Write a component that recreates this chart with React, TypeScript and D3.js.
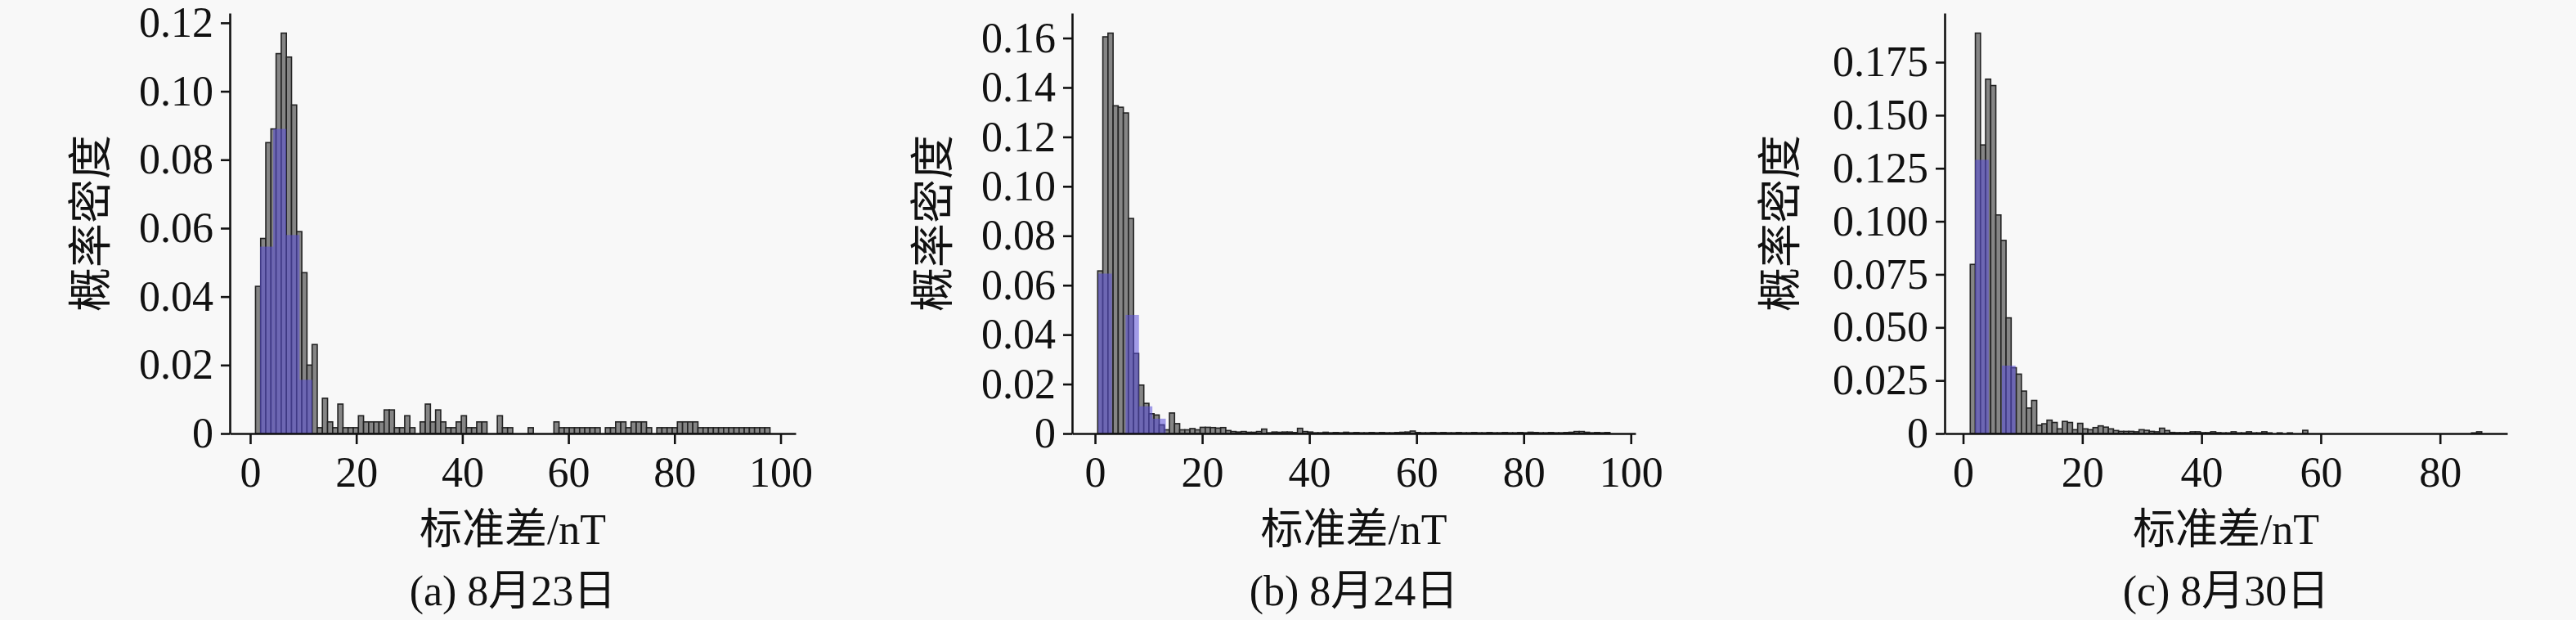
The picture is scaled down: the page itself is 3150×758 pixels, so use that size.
import { useEffect, useRef } from "react";
import * as d3 from "d3";

// gray histograms: 100 equal bins over each data range
const RANGE_A = [1.0, 98.0];
const GRAY_A = [
  0.043, 0.057, 0.085, 0.089, 0.111, 0.117, 0.110, 0.096, 0.059, 0.047,
  0.020, 0.026, 0.0017, 0.0103, 0.0034, 0.0017, 0.0086, 0.0017, 0.0017, 0.0017,
  0.0052, 0.0034, 0.0034, 0.0034, 0.0034, 0.0069, 0.0069, 0.0017, 0.0017, 0.0052,
  0.0017, 0, 0.0034, 0.0086, 0.0034, 0.0069, 0.0034, 0.0017, 0.0017, 0.0034,
  0.0052, 0.0017, 0.0017, 0.0034, 0.0034, 0, 0, 0.0052, 0.0017, 0.0017,
  0, 0, 0, 0.0017, 0, 0, 0, 0, 0.0034, 0.0017,
  0.0017, 0.0017, 0.0017, 0.0017, 0.0017, 0.0017, 0.0017, 0, 0.0017, 0.0017,
  0.0034, 0.0034, 0.0017, 0.0034, 0.0034, 0.0034, 0.0017, 0, 0.0017, 0.0017,
  0.0017, 0.0017, 0.0034, 0.0034, 0.0034, 0.0034, 0.0017, 0.0017, 0.0017, 0.0017,
  0.0017, 0.0017, 0.0017, 0.0017, 0.0017, 0.0017, 0.0017, 0.0017, 0.0017, 0.0017,
];

const RANGE_B = [0.5, 96.1];
const GRAY_B = [
  0.0658, 0.1605, 0.162, 0.1326, 0.132, 0.1297, 0.087, 0.0324, 0.0196, 0.0122,
  0.008, 0.0075, 0.0035, 0.0015, 0.0083, 0.004, 0.0015, 0.0015, 0.002, 0.0015,
  0.0025, 0.0025, 0.0024, 0.0022, 0.0024, 0.0012, 0.0008, 0.0006, 0.0008, 0.0005,
  0.0005, 0.0008, 0.0018, 0.0003, 0.0006, 0.0005, 0.0006, 0.0006, 0.0004, 0.0021,
  0.0008, 0.0006, 0.0003, 0.0003, 0.0005, 0.0003, 0.0004, 0.0003, 0.0005, 0.0003,
  0.0004, 0.0003, 0.0003, 0.0004, 0.0003, 0.0004, 0.0003, 0.0003, 0.0004, 0.0005,
  0.0006, 0.001, 0.0004, 0.0003, 0.0003, 0.0004, 0.0003, 0.0004, 0.0003, 0.0003,
  0.0004, 0.0003, 0.0003, 0.0004, 0.0003, 0.0003, 0.0004, 0.0003, 0.0003, 0.0004,
  0.0003, 0.0003, 0.0004, 0.0003, 0.0005, 0.0004, 0.0003, 0.0003, 0.0004, 0.0003,
  0.0003, 0.0004, 0.0005, 0.0008, 0.0008, 0.0005, 0.0003, 0.0004, 0.0003, 0.0004,
];

const RANGE_C = [1.2, 87.0];
const GRAY_C = [
  0.0797, 0.1887, 0.136, 0.167, 0.164, 0.103, 0.091, 0.0545, 0.031, 0.028,
  0.020, 0.012, 0.0156, 0.0039, 0.0046, 0.0063, 0.0052, 0.0022, 0.0057, 0.0052,
  0.0018, 0.0048, 0.0022, 0.0018, 0.0028, 0.0036, 0.003, 0.0022, 0.0014, 0.001,
  0.001, 0.001, 0.0008, 0.0018, 0.0015, 0.001, 0.0008, 0.0025, 0.0014, 0.0005,
  0.0004, 0.0004, 0.0004, 0.0008, 0.0008, 0.0004, 0.0004, 0.0008, 0.0004, 0.0003,
  0.0003, 0.0008, 0.0003, 0.0003, 0.0008, 0.0003, 0.0003, 0.0008, 0.0003, 0,
  0.0003, 0, 0.0003, 0, 0, 0.0015, 0, 0, 0, 0,
  0, 0, 0, 0, 0, 0, 0, 0, 0, 0,
  0, 0, 0, 0, 0, 0, 0, 0, 0, 0,
  0, 0, 0, 0, 0, 0, 0, 0, 0.0003, 0.0008,
];

// blue histograms (wider bins)
const BLUE_EDGES_A = [1.85, 4.35, 6.8, 9.3, 11.7];
const BLUE_A = [0.0546, 0.089, 0.058, 0.0157];
const BLUE_EDGES_B = [0.6, 3.15, 5.7, 8.2, 10.7, 13.2];
const BLUE_B = [0.0647, 0, 0.048, 0.011, 0.006];
const BLUE_EDGES_C = [2.0, 4.3, 6.5, 8.8];
const BLUE_C = [0.129, 0, 0.032];

const Y_TICKS_A = [0, 0.02, 0.04, 0.06, 0.08, 0.1, 0.12];
const Y_TICKS_B = [0, 0.02, 0.04, 0.06, 0.08, 0.1, 0.12, 0.14, 0.16];
const Y_TICKS_C = [0, 0.025, 0.05, 0.075, 0.1, 0.125, 0.15, 0.175];
const X_TICKS_AB = [0, 20, 40, 60, 80, 100];
const X_TICKS_C = [0, 20, 40, 60, 80];

const TITLES = ["(a) 8月23日", "(b) 8月24日", "(c) 8月30日"];
const X_LABEL = "标准差/nT";
const Y_LABEL = "概率密度";

const FONT = "'Liberation Serif', 'Times New Roman', 'Noto Sans CJK SC', serif";

type PanelSpec = {
  range: number[];
  gray: number[];
  blueEdges: number[];
  blue: number[];
  yTicks: number[];
  xTicks: number[];
  yFmt: (d: number) => string;
  title: string;
  left: number;
  right: number;
};

const PANELS: PanelSpec[] = [
  {
    range: RANGE_A, gray: GRAY_A, blueEdges: BLUE_EDGES_A, blue: BLUE_A,
    yTicks: Y_TICKS_A, xTicks: X_TICKS_AB,
    yFmt: (d) => (d === 0 ? "0" : d3.format(".2f")(d)),
    title: TITLES[0], left: 281, right: 973,
  },
  {
    range: RANGE_B, gray: GRAY_B, blueEdges: BLUE_EDGES_B, blue: BLUE_B,
    yTicks: Y_TICKS_B, xTicks: X_TICKS_AB,
    yFmt: (d) => (d === 0 ? "0" : d3.format(".2f")(d)),
    title: TITLES[1], left: 1311, right: 2000,
  },
  {
    range: RANGE_C, gray: GRAY_C, blueEdges: BLUE_EDGES_C, blue: BLUE_C,
    yTicks: Y_TICKS_C, xTicks: X_TICKS_C,
    yFmt: (d) => (d === 0 ? "0" : d3.format(".3f")(d)),
    title: TITLES[2], left: 2378, right: 3066,
  },
];

const TOP = 16;
const BOTTOM = 530;

export default function App() {
  const svgRef = useRef<SVGSVGElement>(null);

  useEffect(() => {
    if (!svgRef.current) return;
    const svg = d3.select(svgRef.current);
    svg.selectAll("*").remove();

    svg.append("rect").attr("width", 3150).attr("height", 758).attr("fill", "#f8f8f8");

    PANELS.forEach((p) => {
      const [lo, hi] = p.range;
      const span = hi - lo;
      const x = d3.scaleLinear()
        .domain([lo - 0.05 * span, hi + 0.05 * span])
        .range([p.left, p.right]);
      const yMax = (d3.max(p.gray) as number) * 1.05;
      const y = d3.scaleLinear().domain([0, yMax]).range([BOTTOM, TOP]);

      const g = svg.append("g");
      const bw = span / p.gray.length;
      const bins = p.gray.map((v, i) => ({ x0: lo + i * bw, x1: lo + (i + 1) * bw, v }));

      // gray bars
      g.append("g")
        .selectAll("rect")
        .data(bins.filter((b) => b.v > 0))
        .join("rect")
        .attr("x", (d) => x(d.x0))
        .attr("width", (d) => x(d.x1) - x(d.x0))
        .attr("y", (d) => y(d.v))
        .attr("height", (d) => y(0) - y(d.v))
        .attr("fill", "#858585")
        .attr("stroke", "#222")
        .attr("stroke-width", 1.6);

      // blue bars, translucent on top
      const blueBins = p.blue.map((v, i) => ({ x0: p.blueEdges[i], x1: p.blueEdges[i + 1], v }));
      g.append("g")
        .selectAll("rect")
        .data(blueBins.filter((b) => b.v > 0))
        .join("rect")
        .attr("x", (d) => x(d.x0))
        .attr("width", (d) => x(d.x1) - x(d.x0))
        .attr("y", (d) => y(d.v))
        .attr("height", (d) => y(0) - y(d.v))
        .attr("fill", "#5a4fd8")
        .attr("fill-opacity", 0.55);

      // axes
      const xAxis = g.append("g")
        .attr("transform", `translate(0,${BOTTOM})`)
        .call(d3.axisBottom(x).tickValues(p.xTicks).tickSize(13).tickSizeOuter(0).tickPadding(15).tickFormat((d) => String(d)));
      const yAxis = g.append("g")
        .attr("transform", `translate(${p.left},0)`)
        .call(d3.axisLeft(y).tickValues(p.yTicks).tickSize(11).tickSizeOuter(0).tickPadding(9).tickFormat((d) => p.yFmt(d as number)));

      [xAxis, yAxis].forEach((a) => {
        a.select(".domain").attr("stroke", "#111").attr("stroke-width", 2.6);
        a.selectAll(".tick line").attr("stroke", "#111").attr("stroke-width", 2.6);
        a.selectAll(".tick text")
          .attr("fill", "#111")
          .attr("font-family", FONT)
          .attr("font-size", 52);
        a.attr("font-family", null).attr("font-size", null);
      });

      const cx = (p.left + p.right) / 2;
      g.append("text")
        .attr("x", cx)
        .attr("y", 665)
        .attr("text-anchor", "middle")
        .attr("font-family", FONT)
        .attr("font-size", 52)
        .attr("fill", "#111")
        .text(X_LABEL);

      g.append("text")
        .attr("x", cx)
        .attr("y", 740)
        .attr("text-anchor", "middle")
        .attr("font-family", FONT)
        .attr("font-size", 52)
        .attr("fill", "#111")
        .text(p.title);

      const labelX = p.left - (p.yTicks.some((t) => t === 0.025) ? 200 : 169);
      g.append("text")
        .attr("transform", `translate(${labelX},${(TOP + BOTTOM) / 2}) rotate(-90)`)
        .attr("text-anchor", "middle")
        .attr("dominant-baseline", "central")
        .attr("font-family", FONT)
        .attr("font-size", 54)
        .attr("fill", "#111")
        .text(Y_LABEL);
    });
  }, []);

  return (
    <svg
      ref={svgRef}
      width={3150}
      height={758}
      style={{ position: "absolute", left: 0, top: 0, display: "block" }}
    />
  );
}
